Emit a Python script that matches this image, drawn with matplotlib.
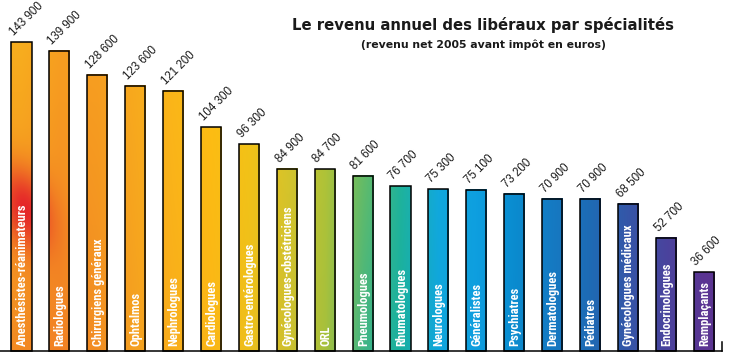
import numpy as np
import matplotlib
matplotlib.use("Agg")
import matplotlib.pyplot as plt
from matplotlib.colors import to_rgb

# %% data
specialites = ['Anesthésistes-réanimateurs', 'Radiologues', 'Chirurgiens généraux',
               'Ophtalmos', 'Nephrologues', 'Cardiologues', 'Gastro-entérologues',
               'Gynécologues-obstétriciens', 'ORL', 'Pneumologues', 'Rhumatologues',
               'Neurologues', 'Généralistes', 'Psychiatres', 'Dermatologues',
               'Pédiatres', 'Gynécologues médicaux', 'Endocrinologues', 'Remplaçants']
revenus = [143900, 139900, 128600, 123600, 121200, 104300, 96300, 84900, 84700,
           81600, 76700, 75300, 75100, 73200, 70900, 70900, 68500, 52700, 36600]

# gradient colours, one per bar (top of chart / baseline)
top_colors = ['#F8AE1E', '#F7A020', '#F7A020', '#F8AC1D', '#FBB818', '#FDBF12',
              '#F5C415', '#DCC628', '#B5C435', '#80C050', '#25B597', '#12AADD',
              '#0EA0E0', '#0A8DD0', '#157BC3', '#1E6CB6', '#3656A8', '#4A449E', '#5C3593']
bot_colors = ['#F28A22', '#F28024', '#F28E22', '#F5A020', '#F9AE1B', '#FBB616',
              '#EDBF1C', '#CEC02E', '#A6C03C', '#40B585', '#18B0A0', '#10A6DC',
              '#0E9EDF', '#0A8BCF', '#1579C2', '#1E6AB4', '#3555A7', '#4A439D', '#5B3492']
YMAX = 145000

top_rgb = np.array([to_rgb(c) for c in top_colors])
bot_rgb = np.array([to_rgb(c) for c in bot_colors])
red = np.array(to_rgb('#E5262A'))


def field(xx, yy):
    '''colour of the background gradient at data coords'''
    idx = np.arange(len(top_colors))
    out = np.zeros(xx.shape + (3,))
    t = np.clip(yy / YMAX, 0, 1)
    for k in range(3):
        ct = np.interp(xx, idx, top_rgb[:, k])
        cb = np.interp(xx, idx, bot_rgb[:, k])
        out[..., k] = cb + (ct - cb) * t
    # red hot spot on the left
    w = np.exp(-((xx - 0.1) / 0.7) ** 2 - ((yy - 67000 + (xx * 9000)) / 18000) ** 2)
    out = out * (1 - w[..., None]) + red * w[..., None]
    return np.clip(out, 0, 1)


# %% figure
W, H = 732, 355
fig = plt.figure(figsize=(W / 100, H / 100), dpi=100)
ax = fig.add_axes([0, 0, 1, 1])

step = 37.9      # px between bars
x0 = 21.5        # px of first bar centre
pxk = 2.147e-3   # px per euro
base = 4         # px baseline from bottom
ax.axis('off')

x = np.arange(len(revenus))
bw = 0.53
bars = ax.bar(x, revenus, width=bw, facecolor='none', edgecolor='black',
              linewidth=1.1, zorder=3)

cond = ['Roboto Condensed', 'DejaVu Sans Condensed', 'Liberation Sans Narrow',
        'Roboto', 'DejaVu Sans']
for i, (b, v) in enumerate(zip(bars, revenus)):
    xs = np.linspace(i - bw / 2, i + bw / 2, 20)
    ys = np.linspace(0, v, 150)
    xx, yy = np.meshgrid(xs, ys)
    ax.imshow(field(xx, yy), extent=(i - bw / 2, i + bw / 2, 0, v), origin='lower',
              aspect='auto', interpolation='bilinear', zorder=2)

    ax.text(i - bw / 2 + 0.13, v + 1800, f'{v:,}'.replace(',', ' '), rotation=45,
            rotation_mode='anchor', ha='left', va='bottom', fontsize=8.3,
            family=['Liberation Sans', 'DejaVu Sans'], color='#1a1a1a', zorder=4)
    ax.text(i + 0.02, 2300, specialites[i], rotation=90, ha='center', va='bottom',
            fontsize=9, fontweight='bold', fontstretch='condensed', color='white',
            family=cond, zorder=4)

ax.set_xlim(-x0 / step, (W - x0) / step)
ax.set_ylim(-base / pxk, (H - base) / pxk)

# baseline and closing tick
xr = (722 - x0) / step
ax.plot([-x0 / step, xr], [0, 0], color='black', lw=1.1, zorder=5, clip_on=False)
ax.plot([xr, xr], [0, 9 / pxk], color='black', lw=1.1, zorder=5)

fig.text(483 / W, 1 - 25 / H, 'Le revenu annuel des libéraux par spécialités',
         ha='center', va='center', fontsize=10.7, fontweight='semibold', color='#1a1a1a')
fig.text(483 / W, 1 - 45 / H, '(revenu net 2005 avant impôt en euros)',
         ha='center', va='center', fontsize=7.8, fontweight='semibold', color='#1a1a1a')

fig.savefig('out.png', dpi=100)
